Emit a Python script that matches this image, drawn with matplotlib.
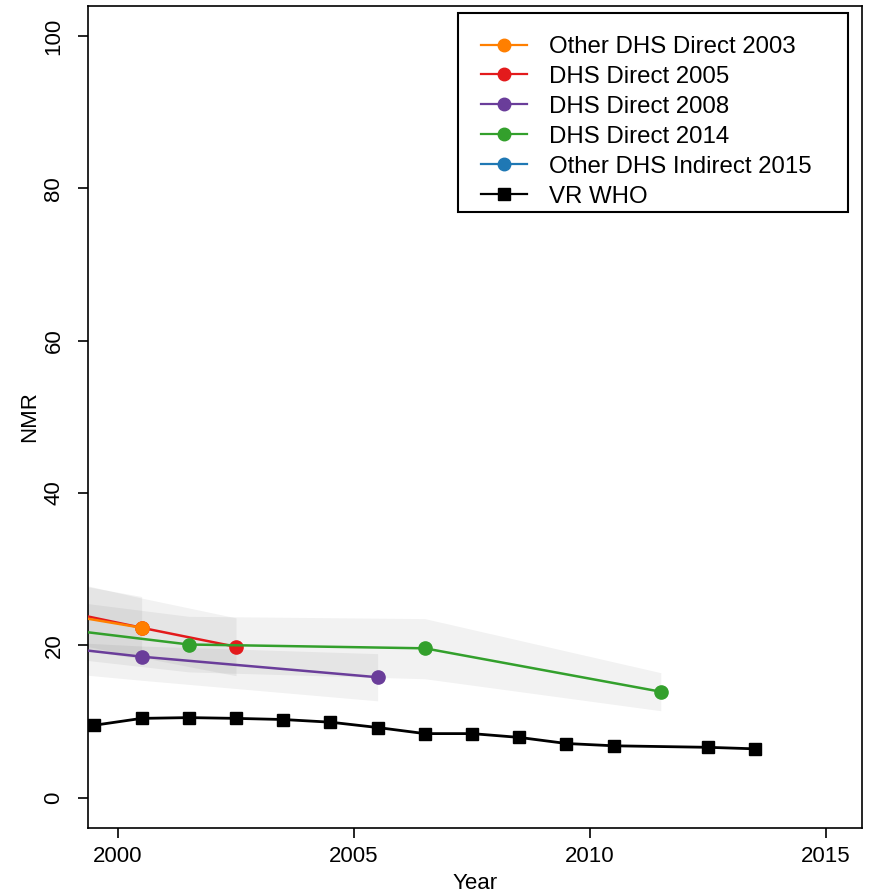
import matplotlib
matplotlib.use("Agg")
import matplotlib.pyplot as plt
from matplotlib.lines import Line2D
from matplotlib.patches import Rectangle

plt.rcParams['font.family'] = ['Liberation Sans', 'DejaVu Sans']

# survey series: mid-period year, NMR estimate, lower / upper bounds
dhs03_x = [1995.5, 2000.5]
dhs03_y = [27.5, 22.3]
dhs03_lo = [23.0, 18.2]
dhs03_hi = [32.0, 26.4]

dhs05_x = [1998.5, 2000.5, 2002.5]
dhs05_y = [24.9, 22.3, 19.8]
dhs05_lo = [20.9, 18.4, 16.0]
dhs05_hi = [29.0, 26.2, 23.6]

dhs08_x = [1995.5, 2000.5, 2005.5]
dhs08_y = [22.0, 18.5, 15.8]
dhs08_lo = [18.3, 15.4, 12.7]
dhs08_hi = [21.5, 19.9, 18.9]

dhs14_x = [1996.5, 2001.5, 2006.5, 2011.5]
dhs14_y = [23.85, 20.1, 19.6, 13.9]
dhs14_lo = [20.0, 16.5, 15.6, 11.4]
dhs14_hi = [27.7, 23.8, 23.5, 16.4]

ind15_x = []
ind15_y = []

vr_x = [1999.5, 2000.5, 2001.5, 2002.5, 2003.5, 2004.5, 2005.5,
        2006.5, 2007.5, 2008.5, 2009.5, 2010.5, 2012.5, 2013.5]
vr_y = [9.5, 10.4, 10.5, 10.4, 10.25, 9.9, 9.2,
        8.4, 8.4, 7.9, 7.1, 6.8, 6.6, 6.4]

names = ['Other DHS Direct 2003', 'DHS Direct 2005', 'DHS Direct 2008',
         'DHS Direct 2014', 'Other DHS Indirect 2015', 'VR WHO']
colors = ['#FF7F00', '#E31A1C', '#6A3D9A', '#33A02C', '#1F78B4', 'black']

fig = plt.figure(figsize=(8.74, 8.92), dpi=100)
ax = fig.add_axes([0.1007, 0.0717, 0.8856, 0.9221])

surveys = [
    (dhs05_x, dhs05_y, dhs05_lo, dhs05_hi, colors[1]),
    (dhs03_x, dhs03_y, dhs03_lo, dhs03_hi, colors[0]),
    (dhs08_x, dhs08_y, dhs08_lo, dhs08_hi, colors[2]),
    (dhs14_x, dhs14_y, dhs14_lo, dhs14_hi, colors[3]),
]

for x, y, lo, hi, c in surveys:
    ax.fill_between(x, lo, hi, color='black', alpha=0.05, linewidth=0, zorder=1)
for x, y, lo, hi, c in surveys:
    ax.plot(x, y, color=c, lw=1.8, marker='o', ms=9.5, mec=c, zorder=3)

ax.plot(ind15_x, ind15_y, color=colors[4], lw=1.8, marker='o', ms=9.5)
ax.plot(vr_x, vr_y, color='black', lw=2, marker='s', ms=9, zorder=4)

ax.set_xlim(1999.364, 2015.763)
ax.set_ylim(-4, 104)
ax.set_xticks([2000, 2005, 2010, 2015])
ax.set_yticks([0, 20, 40, 60, 80, 100])
ax.tick_params(length=7, width=1.2, labelsize=16)
ax.tick_params(axis='x', pad=6)
ax.tick_params(axis='y', pad=10)
plt.setp(ax.get_yticklabels(), rotation=90, va='center')
for s in ax.spines.values():
    s.set_linewidth(1.2)

ax.set_xlabel('Year', fontsize=16, labelpad=4)
ax.set_ylabel('NMR', fontsize=16, labelpad=2)

# legend box drawn separately so its padding can be set freely
ax.add_patch(Rectangle((0.478, 0.749), 0.504, 0.242, transform=ax.transAxes,
                       facecolor='white', edgecolor='black', lw=1.5, zorder=6))

handles = []
for n, c in zip(names, colors):
    m = 's' if n == 'VR WHO' else 'o'
    handles.append(Line2D([], [], color=c, lw=1.6, marker=m, ms=9, mec=c))
leg = ax.legend(handles, names, loc='upper left', bbox_to_anchor=(0.5078, 0.963),
                borderaxespad=0, borderpad=0, fontsize=17.3, frameon=False,
                handlelength=1.92, handletextpad=0.92, labelspacing=0.33)
leg.set_zorder(7)

fig.savefig('out.png', dpi=100)
